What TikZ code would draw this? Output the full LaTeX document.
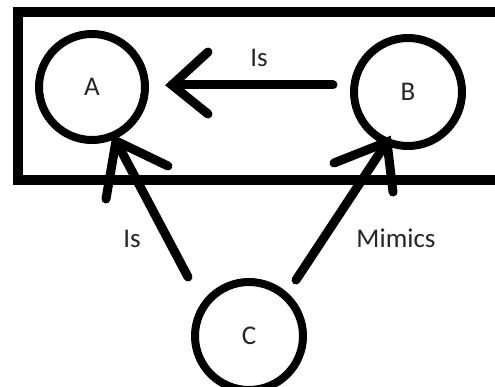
\documentclass[tikz,border=0pt]{standalone}
\usepackage{fontspec}
\setmainfont{Carlito}
\begin{document}
\begin{tikzpicture}[x=1pt,y=-1pt,
  circ/.style={draw=black,circle,line width=8pt,minimum size=100pt,inner sep=0pt,font=\fontsize{27}{27}\selectfont,text=black!85},
  stroke/.style={draw=black,line width=9pt,line cap=round},
  lbl/.style={font=\fontsize{27}{27}\selectfont,text=black!85,inner sep=0pt}]
\useasboundingbox (0,0) rectangle (495,387);
\clip (0,0) rectangle (495,387);
\fill[white] (0,0) rectangle (495,387);
\draw[line width=10pt] (18,12) rectangle (520,180);
\node[circ,minimum size=106pt] (A) at (92,87) {A};
\node[circ,minimum size=108pt] (B) at (408,92) {B};
\node[circ,minimum size=108pt] (C) at (249,336) {C};
% top arrow B -> A
\coordinate (bstart) at (333,85);
\coordinate (atip1) at (172,85);
\coordinate (h1a) at (208,52);
\coordinate (h1b) at (208,114);
\draw[stroke] (bstart) -- (atip1);
\draw[stroke] (h1a) -- (atip1) -- (h1b);
% left arrow C -> A
\coordinate (cstart1) at (188,277);
\coordinate (atip2) at (116,141);
\coordinate (h2a) at (168,166);
\coordinate (h2b) at (106,199);
\draw[stroke] (cstart1) -- (atip2);
\draw[stroke] (h2a) -- (atip2) -- (h2b);
% right arrow C -> B
\coordinate (cstart2) at (296,280);
\coordinate (btip) at (387,142);
\coordinate (h3a) at (334,163);
\coordinate (h3b) at (393,192);
\draw[stroke] (cstart2) -- (btip);
\draw[stroke] (h3a) -- (btip) -- (h3b);
% labels
\node[lbl] (l1) at (259,58) {Is};
\node[lbl] (l2) at (132,239) {Is};
\node[lbl] (l3) at (396,238) {Mimics};
\end{tikzpicture}
\end{document}
